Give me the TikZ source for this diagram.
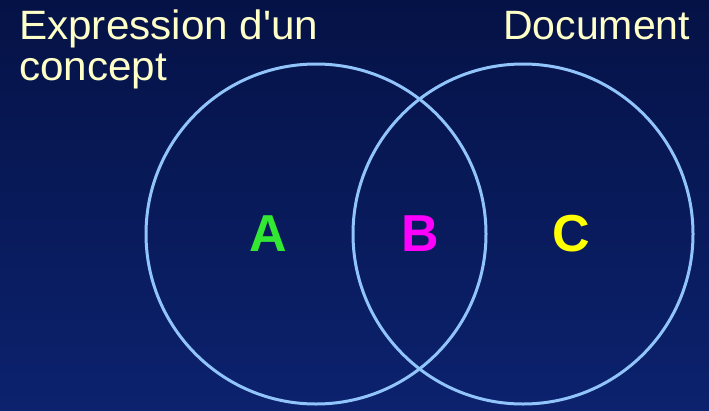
\documentclass[tikz,border=0pt]{standalone}
\usepackage{fontspec}
\setmainfont{Liberation Sans}
\usepackage{tikz}
\usetikzlibrary{positioning}
\definecolor{bgtop}{RGB}{5,18,70}
\definecolor{bgbot}{RGB}{12,34,110}
\definecolor{ring}{RGB}{145,196,250}
\definecolor{cream}{RGB}{255,255,200}
\definecolor{zoneA}{RGB}{50,232,50}
\definecolor{zoneB}{RGB}{255,0,255}
\definecolor{zoneC}{RGB}{255,255,0}

\begin{document}
\begin{tikzpicture}[x=1pt, y=-1pt,
  title/.style={font=\fontsize{41}{45}\selectfont, text=cream, inner sep=0pt},
  zone/.style={font=\fontsize{52}{56}\selectfont\bfseries, inner sep=0pt},
  set/.style={draw=ring, line width=3pt}]
\shade[top color=bgtop, bottom color=bgbot] (0,0) rectangle (709,410);
\useasboundingbox (0,0) rectangle (709,410);

\draw[set] (316,234) circle[radius=170];
\draw[set] (523,234) circle[radius=170];

\node[title, anchor=base west, xscale=1.03] (expr) at (19,39) {Expression d\textquotesingle un};
\node[title, anchor=base west, xscale=1.03] (concept) at (19,80) {concept};
\node[title, anchor=base west] (doc) at (503,39) {Document};

\node[zone, text=zoneA] (A) at (268,234) {A};
\node[zone, text=zoneB] (B) at (420,234) {B};
\node[zone, text=zoneC] (C) at (571,234) {C};
\end{tikzpicture}
\end{document}
